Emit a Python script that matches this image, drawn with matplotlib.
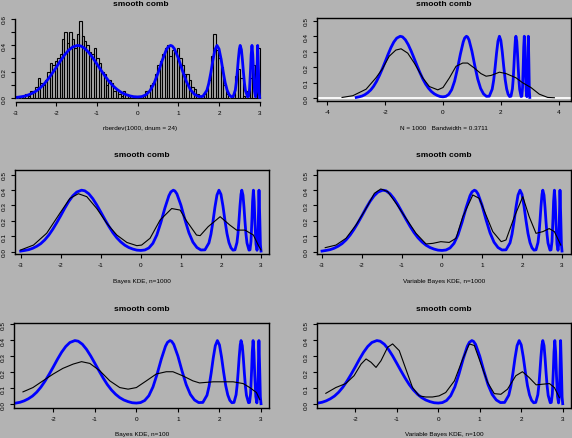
import numpy as np
import matplotlib
matplotlib.use('Agg')
import matplotlib.pyplot as plt

W, H = 572, 439
BG = '#b3b3b3'

plt.rcParams['font.family'] = ['Liberation Sans', 'DejaVu Sans']
plt.rcParams['axes.unicode_minus'] = False

# true smooth comb density
truth_x = [-3.0, -2.9, -2.8, -2.7, -2.6, -2.5, -2.4, -2.3, -2.2, -2.1, -2.0, -1.9, -1.8, -1.7, -1.6,
           -1.48, -1.4, -1.3, -1.2, -1.1, -1.0, -0.9, -0.8, -0.7, -0.6, -0.5, -0.4, -0.3, -0.2, -0.1,
           0.0, 0.1, 0.2, 0.3, 0.4, 0.5, 0.6, 0.7, 0.75, 0.81, 0.85, 0.9, 1.0, 1.1, 1.2, 1.3, 1.4,
           1.5, 1.6, 1.7, 1.75, 1.8, 1.85, 1.9, 1.95, 2.0, 2.05, 2.1, 2.15, 2.2, 2.25, 2.3, 2.35,
           2.4, 2.425, 2.45, 2.475, 2.5, 2.52, 2.55, 2.575, 2.6, 2.625, 2.65, 2.7,
           2.725, 2.75, 2.775, 2.79, 2.81, 2.83, 2.85, 2.875, 2.9,
           2.92, 2.935, 2.95, 2.97, 2.985, 3.0]
truth_y = [0.004, 0.008, 0.013, 0.022, 0.035, 0.052, 0.076, 0.107, 0.145, 0.188, 0.234, 0.282, 0.326, 0.362, 0.387,
           0.399, 0.395, 0.376, 0.344, 0.303, 0.257, 0.210, 0.165, 0.124, 0.090, 0.063, 0.042, 0.027, 0.017, 0.010,
           0.008, 0.011, 0.024, 0.054, 0.109, 0.190, 0.283, 0.363, 0.388, 0.399, 0.394, 0.375, 0.302, 0.208, 0.123, 0.062, 0.027,
           0.011, 0.012, 0.057, 0.113, 0.195, 0.289, 0.367, 0.399, 0.372, 0.296, 0.202, 0.118, 0.059, 0.025, 0.010, 0.012,
           0.060, 0.118, 0.202, 0.296, 0.372, 0.399, 0.367, 0.289, 0.195, 0.113, 0.056, 0.010,
           0.012, 0.067, 0.218, 0.327, 0.399, 0.327, 0.180, 0.049, 0.009,
           0.053, 0.225, 0.399, 0.21, 0.046, 0.004]

# histogram of the sample (density scale), bins of width 0.06 from -3 to 3
hist_start, hist_width = -3.0, 0.06
hist_dens = [0, 0, 0, 0.017, 0.033, 0.017, 0.05, 0.05, 0.083, 0.15,
             0.117, 0.10, 0.133, 0.20, 0.267, 0.25, 0.283, 0.30, 0.333, 0.45,
             0.50, 0.417, 0.50, 0.45, 0.383, 0.483, 0.583, 0.467, 0.433, 0.40,
             0.35, 0.333, 0.383, 0.30, 0.267, 0.20, 0.183, 0.10, 0.133, 0.117,
             0.05, 0.067, 0.033, 0.017, 0.05, 0.033, 0.017, 0.017, 0.017, 0.017,
             0.017, 0.017, 0.017, 0.05, 0.05, 0.10, 0.117, 0.183, 0.25, 0.283,
             0.333, 0.383, 0.40, 0.317, 0.367, 0.35, 0.383, 0.30, 0.25, 0.183,
             0.183, 0.133, 0.083, 0.067, 0.033, 0.017, 0.017, 0.033, 0.067, 0.133,
             0.317, 0.483, 0.367, 0.30, 0.233, 0.10, 0.033, 0.0, 0.0, 0.033,
             0.167, 0.217, 0.15, 0.017, 0.0, 0.05, 0.15, 0.25, 0.083, 0.383]

# R density(), N = 1000, bw = 0.3711
kde_x = [-3.49, -3.12, -2.66, -2.32, -2.09, -1.86, -1.63, -1.45, -1.22, -0.99, -0.70, -0.47, -0.18, 0.0,
         0.22, 0.45, 0.68, 0.85, 1.08, 1.31, 1.49, 1.66, 1.95, 2.18, 2.52, 2.75, 3.04, 3.33, 3.62, 3.85]
kde_y = [0.004, 0.015, 0.057, 0.13, 0.19, 0.27, 0.31, 0.318, 0.29, 0.225, 0.13, 0.074, 0.053, 0.068,
         0.13, 0.205, 0.226, 0.226, 0.194, 0.158, 0.141, 0.146, 0.167, 0.158, 0.131, 0.099, 0.068, 0.025, 0.004, 0.002]

# Bayes KDE, n=1000
bk1000_x = [-3.0, -2.68, -2.35, -2.02, -1.77, -1.56, -1.35, -1.10, -0.85, -0.60, -0.35, -0.10, 0.02, 0.23,
            0.48, 0.77, 0.98, 1.14, 1.39, 1.48, 1.68, 1.98, 2.22, 2.39, 2.60, 2.81, 2.93, 3.0]
bk1000_y = [0.011, 0.043, 0.12, 0.25, 0.346, 0.376, 0.357, 0.28, 0.184, 0.108, 0.06, 0.039, 0.043, 0.087,
            0.205, 0.28, 0.27, 0.20, 0.108, 0.104, 0.162, 0.227, 0.173, 0.14, 0.14, 0.108, 0.043, 0.011]

# Variable Bayes KDE, n=1000
vb1000_x = [-2.92, -2.65, -2.4, -2.15, -1.9, -1.69, -1.53, -1.36, -1.15, -0.9, -0.65, -0.4, -0.23, -0.03,
            0.18, 0.35, 0.52, 0.77, 0.93, 1.1, 1.27, 1.48, 1.6, 1.81, 2.02, 2.18, 2.35, 2.52, 2.68, 2.81, 2.97]
vb1000_y = [0.026, 0.043, 0.087, 0.173, 0.28, 0.379, 0.407, 0.39, 0.314, 0.216, 0.119, 0.05, 0.054, 0.065,
            0.06, 0.087, 0.227, 0.368, 0.346, 0.238, 0.13, 0.065, 0.076, 0.227, 0.357, 0.227, 0.119, 0.13, 0.15, 0.13, 0.043]

# Bayes KDE, n=100
bk100_x = [-2.73, -2.49, -2.25, -2.0, -1.77, -1.52, -1.32, -1.12, -0.88, -0.64, -0.4, -0.2, 0.0, 0.24,
           0.48, 0.72, 0.88, 1.12, 1.36, 1.52, 1.85, 2.33, 2.57, 2.73, 2.89, 2.97]
bk100_y = [0.078, 0.105, 0.147, 0.19, 0.225, 0.252, 0.267, 0.256, 0.21, 0.147, 0.105, 0.095, 0.105, 0.147,
           0.19, 0.204, 0.204, 0.178, 0.147, 0.134, 0.141, 0.141, 0.13, 0.105, 0.074, 0.03]

# Variable Bayes KDE, n=100
vb100_x = [-2.71, -2.47, -2.23, -2.03, -1.86, -1.74, -1.62, -1.5, -1.38, -1.22, -1.1, -0.94, -0.78, -0.62,
           -0.46, -0.3, -0.14, 0.02, 0.18, 0.39, 0.59, 0.75, 0.87, 1.03, 1.19, 1.35, 1.51, 1.67, 1.87,
           2.03, 2.19, 2.36, 2.52, 2.68, 2.8, 2.92]
vb100_y = [0.069, 0.105, 0.13, 0.179, 0.252, 0.284, 0.263, 0.231, 0.273, 0.357, 0.378, 0.336, 0.22, 0.105,
           0.053, 0.046, 0.046, 0.053, 0.074, 0.147, 0.284, 0.378, 0.368, 0.252, 0.137, 0.067, 0.063, 0.095, 0.179,
           0.204, 0.168, 0.122, 0.126, 0.13, 0.105, 0.042]

title = 'smooth comb'
xlabels = ['rberdev(1000, dnum = 24)', 'N = 1000   Bandwidth = 0.3711',
           'Bayes KDE, n=1000', 'Variable Bayes KDE, n=1000',
           'Bayes KDE, n=100', 'Variable Bayes KDE, n=100']

fig = plt.figure(figsize=(W / 100, H / 100), dpi=100, facecolor=BG)


def make_axes(box, xlim, ylim, xticks, yticks, ylabs, frame=True):
    x0, y0, x1, y1 = box
    ax = fig.add_axes([x0 / W, 1 - y1 / H, (x1 - x0) / W, (y1 - y0) / H])
    ax.set_facecolor(BG)
    ax.patch.set_alpha(0)
    ax.set_xlim(xlim)
    ax.set_ylim(ylim)
    ax.set_xticks(xticks)
    ax.set_xticklabels([str(t) for t in xticks])
    ax.set_yticks(yticks)
    ax.set_yticklabels(ylabs, rotation=90, va='center')
    ax.tick_params(direction='out', length=3.2, width=0.8, labelsize=4.6, pad=2.5, colors='black')
    for s in ax.spines.values():
        s.set_linewidth(1.0)
    if not frame:
        ax.spines['top'].set_visible(False)
        ax.spines['right'].set_visible(False)
        ax.spines['left'].set_bounds(yticks[0], yticks[-1])
        ax.spines['bottom'].set_bounds(xticks[0], xticks[-1])
    fig.text((x0 + x1) / 2 / W, 1 - (y0 - 15) / H, title, ha='center', va='center',
             fontsize=6, fontweight='bold')
    return ax


ylabs5 = ['0.0', '0.1', '0.2', '0.3', '0.4', '0.5']
yt5 = [0.0, 0.1, 0.2, 0.3, 0.4, 0.5]

# panel 1: histogram
ax1 = make_axes((15, 19, 266, 103.3), (-3.017, 3.155), (-0.0325, 0.607),
                [-3, -2, -1, 0, 1, 2, 3], [0.0, 0.1, 0.2, 0.3, 0.4, 0.5, 0.6],
                ['0.0', '', '0.2', '', '0.4', '', '0.6'], frame=False)
edges = hist_start + hist_width * np.arange(len(hist_dens))
ax1.bar(edges, hist_dens, width=hist_width, align='edge', fill=False,
        edgecolor='black', linewidth=0.8)
ax1.plot(truth_x, truth_y, color='#0000ff', lw=2.0)
fig.text(140.5 / W, 1 - 128.3 / H, xlabels[0], ha='center', va='center', fontsize=4.6)

# panel 2: density()
ax2 = make_axes((316.7, 19.3, 571, 102.3), (-4.367, 4.425), (-0.021, 0.515),
                [-4, -2, 0, 2, 4], yt5, ylabs5)
ax2.axhline(0, color='white', lw=1.3)
ax2.plot(truth_x, truth_y, color='#0000ff', lw=2.0)
ax2.plot(kde_x, kde_y, color='black', lw=0.8)
fig.text(443.9 / W, 1 - 128.3 / H, xlabels[1], ha='center', va='center', fontsize=4.6)

# panel 3
ax3 = make_axes((15, 171, 269.3, 255.3), (-3.142, 3.207), (-0.017, 0.53),
                [-3, -2, -1, 0, 1, 2, 3], yt5, ylabs5)
ax3.plot(truth_x, truth_y, color='#0000ff', lw=2.0)
ax3.plot(bk1000_x, bk1000_y, color='black', lw=0.8)
fig.text(142.2 / W, 1 - 282 / H, xlabels[2], ha='center', va='center', fontsize=4.6)

# panel 4
ax4 = make_axes((316.7, 171, 571, 255.3), (-3.133, 3.225), (-0.017, 0.53),
                [-3, -2, -1, 0, 1, 2, 3], yt5, ylabs5)
ax4.plot(truth_x, truth_y, color='#0000ff', lw=2.0)
ax4.plot(vb1000_x, vb1000_y, color='black', lw=0.8)
fig.text(443.9 / W, 1 - 282 / H, xlabels[3], ha='center', va='center', fontsize=4.6)

# panel 5
ax5 = make_axes((14, 324.3, 269.3, 408.7), (-2.946, 3.2), (-0.021, 0.507),
                [-2, -1, 0, 1, 2, 3], yt5, ylabs5)
ax5.plot(truth_x, truth_y, color='#0000ff', lw=2.0)
ax5.plot(bk100_x, bk100_y, color='black', lw=0.8)
fig.text(141.7 / W, 1 - 434.7 / H, xlabels[4], ha='center', va='center', fontsize=4.6)

# panel 6
ax6 = make_axes((316.7, 324.3, 571, 408.7), (-2.93, 3.2), (-0.021, 0.507),
                [-2, -1, 0, 1, 2, 3], yt5, ylabs5)
ax6.plot(truth_x, truth_y, color='#0000ff', lw=2.0)
ax6.plot(vb100_x, vb100_y, color='black', lw=0.8)
fig.text(443.9 / W, 1 - 434.7 / H, xlabels[5], ha='center', va='center', fontsize=4.6)

fig.savefig('out.png', dpi=100, facecolor=BG)
